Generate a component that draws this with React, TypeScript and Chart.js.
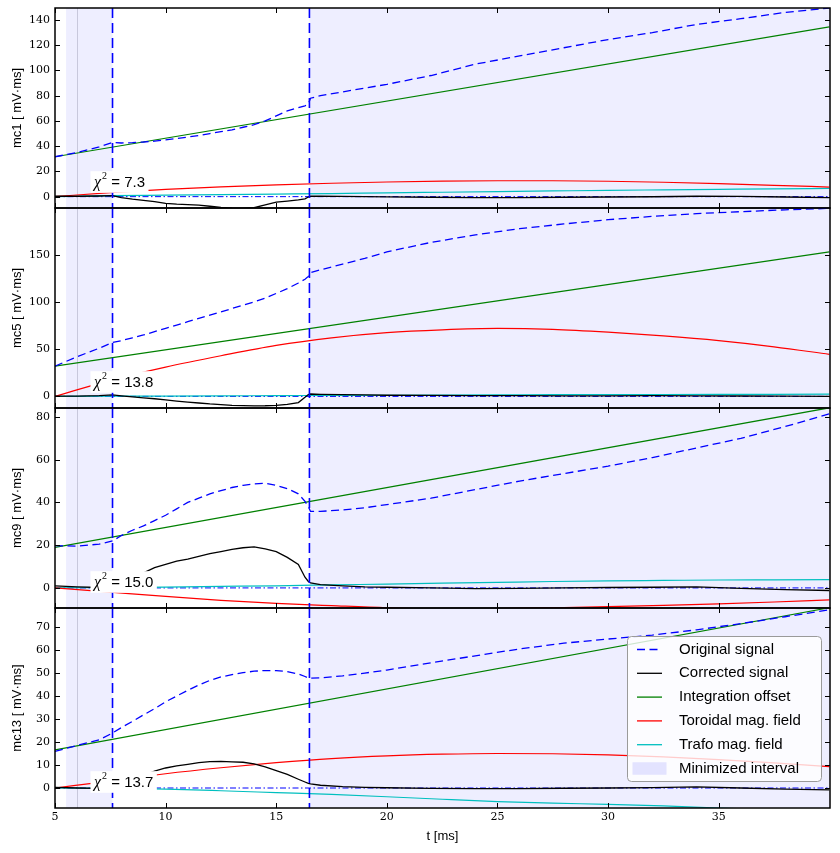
import React, { useEffect, useRef } from "react";
import { Chart, registerables } from "chart.js";

Chart.register(...registerables);

// ---------- time grids (ms) ----------
const T_SIG = [5, 6, 7, 7.6, 8, 8.5, 9, 9.5, 10, 10.5, 11, 11.5, 12, 12.5, 13, 13.5, 14, 14.5, 15, 15.5, 16, 16.3, 16.45, 16.55, 17, 18, 19, 20, 22, 24, 26, 28, 30, 32, 34, 36, 38, 40];
const T_SMOOTH = [5, 7.5, 10, 12.5, 15, 17.5, 20, 22.5, 25, 27.5, 30, 32.5, 35, 37.5, 40];
const T_LIN = [5, 40];

const X_TICKS = [5, 10, 15, 20, 25, 30, 35];
const X_MIN = 5;
const X_MAX = 40.03;
const MIN_INTERVALS = [[5.5, 7.6], [16.5, 40.03]];
const INTERVAL_EDGES = [7.6, 16.5];
const MARK_T = 6.0;
const ZERO_LINE = [0, 0];

const LEGEND_LABELS = ["Original signal", "Corrected signal", "Integration offset", "Toroidal mag. field", "Trafo mag. field", "Minimized interval"];

// ---------- mc1 ----------
const ORIG_MC1 = [31.6, 35, 39.5, 43, 42.5, 42.8, 43.3, 44, 45, 46, 47.2, 48.5, 50, 51.5, 53, 55, 57, 60, 64, 68, 70.5, 72, 73.5, 78, 80, 83, 86, 89, 96, 105, 111.5, 118, 124.5, 130, 136.5, 141, 146, 149.5];
const CORR_MC1 = [0.3, 0.3, 0.5, 0.8, -0.8, -2, -3, -4, -5.3, -6, -6.3, -6.8, -7.6, -8.5, -9.2, -9.3, -8.8, -6.5, -4.3, -3.5, -2.6, -1.8, -0.3, 0.3, 0.3, 0.2, 0, -0.2, -0.5, -0.8, -0.7, -0.5, -0.3, -0.1, 0.3, 0.2, -0.3, -0.8];
const OFFSET_MC1 = [31.6, 134.5];
const TOR_MC1 = [0, 3.2, 5.8, 7.8, 9.4, 10.6, 11.6, 12.3, 12.6, 12.6, 12.2, 11.4, 10.3, 9, 7.6];
const TRAFO_MC1 = [0, 0.8, 1.2, 1.6, 2, 2.4, 3, 3.5, 4, 4.5, 5, 5.4, 5.8, 6.2, 6.5];
const YTICKS_MC1 = [0, 20, 40, 60, 80, 100, 120, 140];

// ---------- mc5 ----------
const ORIG_MC5 = [32, 42, 51, 57, 59, 62, 65, 68.5, 72, 75.5, 79, 82.5, 86, 89.5, 93, 96.5, 100, 104, 109, 114, 120, 124, 127, 131, 134, 140, 146, 153, 163, 171, 177.5, 182.5, 187, 190.5, 193.5, 195.5, 197.5, 199];
const CORR_MC5 = [0.2, 0.3, 0.8, 1.5, 0.5, -0.5, -1.5, -2.5, -3.8, -5, -6, -7, -8, -8.7, -9.5, -9.8, -10, -9.9, -9.5, -8.5, -6.5, -1, 2, 2.5, 2.2, 1.8, 1.5, 1.2, 1, 0.8, 0.7, 0.6, 0.6, 0.8, 0.6, 0.4, 0.2, 0];
const OFFSET_MC5 = [32, 153];
const TOR_MC5 = [0, 17, 31, 43, 54, 62, 67.5, 70.5, 72, 71, 68, 64, 59, 52.5, 44.5];
const TRAFO_MC5 = [0, 0.2, 0.3, 0.5, 0.8, 1, 1.2, 1.4, 1.6, 1.8, 1.9, 2, 2.1, 2.2, 2.3];
const YTICKS_MC5 = [0, 50, 100, 150];

// ---------- mc9 ----------
const ORIG_MC9 = [19.8, 19.5, 20.5, 22, 24.5, 27, 29, 31.5, 34, 37, 40, 42, 44, 45.5, 47, 48, 48.7, 49, 48, 46.5, 44, 40.5, 38, 35.8, 35.8, 36.5, 37.5, 39, 42, 46, 50, 53.5, 57, 61, 65.5, 70, 75.5, 81.5];
const CORR_MC9 = [1, 0.5, 0.2, 0, 2, 4.5, 7, 9.5, 11, 12.5, 13.5, 14.8, 16, 17, 18, 18.8, 19.2, 18.3, 17, 14.3, 11, 5, 3, 2.3, 1.5, 1, 0.5, 0.3, 0, -0.3, -0.2, 0, 0.2, 0.3, 0.5, -0.2, -0.8, -1.2];
const OFFSET_MC9 = [19, 84.3];
const TOR_MC9 = [0, -2, -4, -5.8, -7.2, -8.3, -9.3, -9.8, -9.7, -9.3, -8.8, -8.2, -7.5, -6.6, -5.6];
const TRAFO_MC9 = [0, 0.2, 0.4, 0.7, 1, 1.4, 1.8, 2.2, 2.6, 3, 3.3, 3.5, 3.7, 3.8, 3.9];
const YTICKS_MC9 = [0, 20, 40, 60, 80];

// ---------- mc13 ----------
const ORIG_MC13 = [15.9, 18.5, 21, 23.9, 26.3, 29, 31.8, 34.5, 37.5, 40, 42.5, 44.8, 46.8, 48.3, 49.3, 50.2, 50.8, 51.1, 51.1, 50.6, 49.6, 48.5, 47.8, 47.8, 47.9, 48.8, 50, 51.3, 54.5, 57.5, 60.5, 63, 64.8, 66.5, 68.8, 71.5, 74.5, 77.5];
const CORR_MC13 = [0.3, 0, -0.2, 0, 1.5, 3.5, 5.5, 7.3, 8.7, 9.6, 10.3, 11, 11.5, 11.6, 11.4, 11.2, 10.5, 9.2, 7.6, 5.9, 3.8, 2.6, 2, 1.8, 1.2, 0.6, 0.3, 0.1, -0.2, -0.3, -0.3, -0.1, 0, 0.2, 0.5, 0, -0.5, -0.8];
const OFFSET_MC13 = [16.6, 78.4];
const TOR_MC13 = [0, 3, 6.2, 8.8, 11, 12.8, 14, 14.7, 15, 14.9, 14.4, 13.5, 12.3, 10.9, 9.3];
const TRAFO_MC13 = [0, -0.1, -0.5, -1.2, -2, -2.8, -3.8, -4.9, -5.9, -6.6, -7.1, -7.8, -8.7, -9.5, -10.3];
const YTICKS_MC13 = [0, 10, 20, 30, 40, 50, 60, 70];

const PANELS = [
  { label: "mc1 [ mV\u00b7ms]", chi: "7.3", orig: ORIG_MC1, corr: CORR_MC1, off: OFFSET_MC1, tor: TOR_MC1, trafo: TRAFO_MC1, yTicks: YTICKS_MC1, yMin: -9, yMax: 149.5 },
  { label: "mc5 [ mV\u00b7ms]", chi: "13.8", orig: ORIG_MC5, corr: CORR_MC5, off: OFFSET_MC5, tor: TOR_MC5, trafo: TRAFO_MC5, yTicks: YTICKS_MC5, yMin: -12.3, yMax: 199.4 },
  { label: "mc9 [ mV\u00b7ms]", chi: "15.0", orig: ORIG_MC9, corr: CORR_MC9, off: OFFSET_MC9, tor: TOR_MC9, trafo: TRAFO_MC9, yTicks: YTICKS_MC9, yMin: -9.4, yMax: 84.2 },
  { label: "mc13 [ mV\u00b7ms]", chi: "13.7", orig: ORIG_MC13, corr: CORR_MC13, off: OFFSET_MC13, tor: TOR_MC13, trafo: TRAFO_MC13, yTicks: YTICKS_MC13, yMin: -8.7, yMax: 78.3 },
];

// ---------- styles ----------
const BLUE = "#0000ff";
const BLACK = "#000000";
const GREEN = "#008000";
const RED = "#ff0000";
const CYAN = "#00bfbf";
const SPAN_FILL = "rgba(0,0,255,0.065)";
const PATCH_FILL = "rgba(0,0,255,0.10)";
const ORIG_DASH = [8, 4.5];
const ZERO_DASH = [6, 2.5, 1.5, 2.5];
const TICK_FONT = { family: '"DejaVu Serif"', size: 11 };
const LABEL_FONT = { family: '"Liberation Sans"', size: 13 };

const pts = (xs: number[], ys: number[]) => xs.map((x, i) => ({ x, y: ys[i] }));

function drawChi(ctx: CanvasRenderingContext2D, a: any, chi: string) {
  const yC = a.top + 174;
  const x0 = a.left + 39;
  const fChi = 'italic 16px "Liberation Serif"';
  const fSup = '10px "Liberation Serif"';
  const fMain = '15px "Liberation Sans"';
  const main = " = " + chi;
  ctx.font = fChi;
  const wChi = ctx.measureText("\u03c7").width;
  ctx.font = fSup;
  const wSup = ctx.measureText("2").width;
  ctx.font = fMain;
  const wMain = ctx.measureText(main).width;
  const w = wChi + 1 + wSup + wMain;
  ctx.fillStyle = "#ffffff";
  ctx.fillRect(x0 - 3.5, yC - 10.8, w + 7, 21.6);
  ctx.fillStyle = "#000";
  ctx.textBaseline = "alphabetic";
  ctx.textAlign = "left";
  ctx.font = fChi;
  ctx.fillText("\u03c7", x0, yC + 5);
  ctx.font = fSup;
  ctx.fillText("2", x0 + wChi + 1, yC - 3);
  ctx.font = fMain;
  ctx.fillText(main, x0 + wChi + 1 + wSup, yC + 5);
}

function drawLegend(ctx: CanvasRenderingContext2D, a: any) {
  const bx = a.right - 203;
  const by = a.top + 28;
  const bw = 194;
  const bh = 145;
  ctx.save();
  ctx.beginPath();
  (ctx as any).roundRect(bx + 0.5, by + 0.5, bw, bh, 4);
  ctx.fillStyle = "rgba(255,255,255,0.8)";
  ctx.fill();
  ctx.strokeStyle = "#9a9a9a";
  ctx.lineWidth = 1;
  ctx.stroke();
  const styles = [
    { c: BLUE, d: ORIG_DASH },
    { c: BLACK, d: [] },
    { c: GREEN, d: [] },
    { c: RED, d: [] },
    { c: CYAN, d: [] },
  ];
  ctx.font = '15px "Liberation Sans"';
  ctx.textBaseline = "middle";
  ctx.textAlign = "left";
  LEGEND_LABELS.forEach((lab, i) => {
    const y = by + 13.5 + i * 23.8;
    if (i < styles.length) {
      ctx.strokeStyle = styles[i].c;
      ctx.lineWidth = 1.3;
      ctx.setLineDash(styles[i].d);
      ctx.beginPath();
      ctx.moveTo(bx + 10, y);
      ctx.lineTo(bx + 35, y);
      ctx.stroke();
      ctx.setLineDash([]);
    } else {
      ctx.fillStyle = PATCH_FILL;
      ctx.fillRect(bx + 5.5, y - 6.3, 34, 12.6);
    }
    ctx.fillStyle = "#000";
    ctx.fillText(lab, bx + 52, y);
  });
  ctx.restore();
}

function decorPlugin(p: any, isLast: boolean) {
  return {
    id: "decor",
    beforeDatasetsDraw(chart: any) {
      const { ctx, chartArea: a } = chart;
      const xs = chart.scales.x;
      ctx.save();
      ctx.beginPath();
      ctx.rect(a.left, a.top, a.right - a.left, a.bottom - a.top);
      ctx.clip();
      ctx.fillStyle = SPAN_FILL;
      MIN_INTERVALS.forEach(([s, e]) => {
        const x0 = xs.getPixelForValue(s);
        const x1 = xs.getPixelForValue(e);
        ctx.fillRect(x0, a.top, x1 - x0, a.bottom - a.top);
      });
      const xm = Math.round(xs.getPixelForValue(MARK_T)) + 0.5;
      ctx.strokeStyle = "rgba(110,110,140,0.3)";
      ctx.lineWidth = 1;
      ctx.beginPath();
      ctx.moveTo(xm, a.top);
      ctx.lineTo(xm, a.bottom);
      ctx.stroke();
      ctx.restore();
    },
    afterDatasetsDraw(chart: any) {
      const { ctx, chartArea: a } = chart;
      const xs = chart.scales.x;
      const ys = chart.scales.y;
      ctx.save();
      ctx.beginPath();
      ctx.rect(a.left, a.top, a.right - a.left, a.bottom - a.top);
      ctx.clip();
      ctx.strokeStyle = BLUE;
      ctx.lineWidth = 1.6;
      ctx.setLineDash([10, 5]);
      INTERVAL_EDGES.forEach((t) => {
        const px = xs.getPixelForValue(t);
        ctx.beginPath();
        ctx.moveTo(px, a.top);
        ctx.lineTo(px, a.bottom);
        ctx.stroke();
      });
      ctx.setLineDash([]);
      drawChi(ctx, a, p.chi);
      ctx.restore();

      ctx.save();
      ctx.strokeStyle = "#000";
      ctx.lineWidth = 1;
      X_TICKS.forEach((v) => {
        const px = Math.round(xs.getPixelForValue(v)) + 0.5;
        ctx.beginPath();
        ctx.moveTo(px, a.bottom);
        ctx.lineTo(px, a.bottom - 5);
        ctx.moveTo(px, a.top);
        ctx.lineTo(px, a.top + 5);
        ctx.stroke();
      });
      p.yTicks.forEach((v: number) => {
        const py = Math.round(ys.getPixelForValue(v)) + 0.5;
        ctx.beginPath();
        ctx.moveTo(a.left, py);
        ctx.lineTo(a.left + 5, py);
        ctx.moveTo(a.right, py);
        ctx.lineTo(a.right - 5, py);
        ctx.stroke();
      });
      ctx.lineWidth = 1.5;
      ctx.strokeRect(a.left, a.top, a.right - a.left, a.bottom - a.top);
      ctx.restore();
      if (isLast) drawLegend(ctx, a);
    },
  };
}

function makeConfig(p: any, isLast: boolean): any {
  return {
    type: "line",
    data: {
      datasets: [
        { label: LEGEND_LABELS[0], data: pts(T_SIG, p.orig), borderColor: BLUE, borderWidth: 1.3, borderDash: ORIG_DASH, tension: 0 },
        { label: LEGEND_LABELS[1], data: pts(T_SIG, p.corr), borderColor: BLACK, borderWidth: 1.3, tension: 0 },
        { label: LEGEND_LABELS[2], data: pts(T_LIN, p.off), borderColor: GREEN, borderWidth: 1.2 },
        { label: LEGEND_LABELS[3], data: pts(T_SMOOTH, p.tor), borderColor: RED, borderWidth: 1.2, cubicInterpolationMode: "monotone" },
        { label: LEGEND_LABELS[4], data: pts(T_SMOOTH, p.trafo), borderColor: CYAN, borderWidth: 1.2, cubicInterpolationMode: "monotone" },
        { label: "zero", data: pts(T_LIN, ZERO_LINE), borderColor: BLUE, borderWidth: 1, borderDash: ZERO_DASH },
      ],
    },
    options: {
      animation: false,
      responsive: false,
      maintainAspectRatio: false,
      events: [],
      layout: { padding: { left: 0, right: 10, top: 8, bottom: isLast ? 0 : 8 } },
      elements: { point: { radius: 0 }, line: { fill: false } },
      plugins: { legend: { display: false }, tooltip: { enabled: false } },
      scales: {
        x: {
          type: "linear",
          min: X_MIN,
          max: X_MAX,
          display: isLast,
          afterBuildTicks: (s: any) => {
            s.ticks = X_TICKS.map((v) => ({ value: v }));
          },
          afterFit: (s: any) => {
            s.height = isLast ? 45 : 0;
            s.paddingLeft = 0;
            s.paddingRight = 0;
          },
          grid: { display: false, drawTicks: false },
          border: { display: false },
          ticks: { font: TICK_FONT, color: "#000", padding: 3, maxRotation: 0, autoSkip: false, callback: (v: any) => String(v) },
          title: { display: true, text: "t [ms]", font: LABEL_FONT, color: "#000", padding: { top: 10, bottom: 9 } },
        },
        y: {
          type: "linear",
          min: p.yMin,
          max: p.yMax,
          afterBuildTicks: (s: any) => {
            s.ticks = p.yTicks.map((v: number) => ({ value: v }));
          },
          afterFit: (s: any) => {
            s.width = 55;
            s.paddingTop = 0;
            s.paddingBottom = 0;
          },
          grid: { display: false, drawTicks: false },
          border: { display: false },
          ticks: { font: TICK_FONT, color: "#000", padding: 5, autoSkip: false, callback: (v: any) => String(v) },
          title: { display: true, text: p.label, font: LABEL_FONT, color: "#000", padding: { top: 10, bottom: 10 } },
        },
      },
    },
    plugins: [decorPlugin(p, isLast)],
  };
}

function Panel({ idx }: { idx: number }) {
  const ref = useRef<HTMLCanvasElement>(null);
  const isLast = idx === PANELS.length - 1;
  const h = isLast ? 253 : 216;
  useEffect(() => {
    const chart = new Chart(ref.current as HTMLCanvasElement, makeConfig(PANELS[idx], isLast));
    return () => chart.destroy();
  }, [idx]);
  return (
    <canvas
      ref={ref}
      width={840}
      height={h}
      style={{ position: "absolute", left: 0, top: idx * 200, width: 840, height: h }}
    />
  );
}

export default function App() {
  return (
    <div style={{ position: "absolute", left: 0, top: 0, width: 840, height: 853, background: "#ffffff" }}>
      {PANELS.map((_, i) => (
        <Panel key={i} idx={i} />
      ))}
    </div>
  );
}
